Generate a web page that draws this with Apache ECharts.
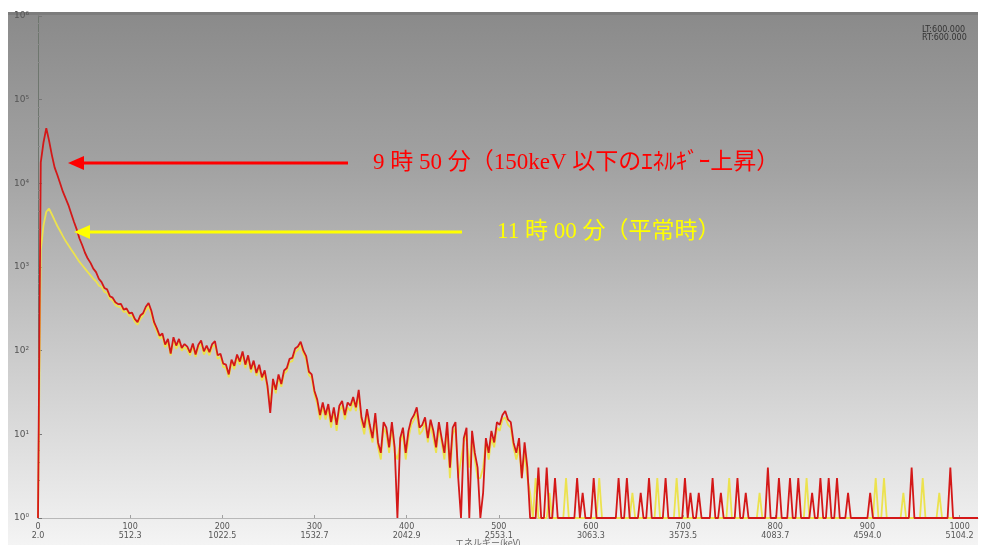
<!DOCTYPE html>
<html>
<head>
<meta charset="utf-8">
<script src="https://cdn.jsdelivr.net/npm/echarts@6/dist/echarts.min.js"></script>
<style>
  html, body { margin: 0; padding: 0; background: #fff; }
  #panel {
    position: absolute; left: 8px; top: 12px; width: 970px; height: 533px;
    background: linear-gradient(to bottom, #8a8a8a 0%, #a3a3a3 30%, #c6c6c6 60%, #e8e8e8 90%, #f4f4f4 100%);
  }
  #band { position: absolute; left: 8px; top: 12px; width: 970px; height: 3px; background: #7c7c7c; }
  #chart { position: absolute; left: 0; top: 0; width: 984px; height: 545px; }
</style>
</head>
<body>
<div id="panel"></div>
<div id="band"></div>
<div id="chart"></div>
<script>
// channel step between samples
const STEP = 3;

// 9:50 spectrum (counts), channels 0..1020 every 3
const redCounts = [
  1, 17800, 31000, 45700, 32400, 21900, 15500, 12600, 10000, 7940,
  6600, 5500, 4370, 3470, 2820, 2190, 1820, 1480, 1260, 1120,
  955, 870, 724, 660, 562, 540, 447, 430, 380, 360,
  363, 310, 320, 280, 285, 240, 219, 263, 280, 335,
  372, 300, 219, 185, 151, 160, 118, 138, 92, 145,
  115, 138, 108, 120, 112, 95, 122, 90, 118, 132,
  98, 115, 96, 120, 130, 88, 92, 70, 68, 52,
  78, 66, 90, 74, 98, 68, 88, 60, 76, 54,
  68, 48, 58, 38, 18, 46, 34, 52, 40, 58,
  62, 80, 82, 106, 112, 128, 100, 86, 56, 52,
  33, 26, 17, 24, 17, 23, 14, 21, 13, 22,
  25, 17, 24, 22, 28, 21, 34, 16, 12, 20,
  13, 9, 18, 8, 6, 14, 12, 7, 14, 7,
  1, 9, 12, 6, 11, 15, 17, 21, 12, 13,
  16, 9, 15, 11, 7, 14, 9, 6, 14, 4,
  12, 14, 3, 1, 9, 12, 1, 11, 6, 4,
  1, 2, 9, 6, 11, 8, 14, 13, 17, 19,
  15, 14, 8, 6, 9, 3, 8, 4, 1,
  // tail 537..1020
  1, 1, 4, 1, 1, 4, 1, 1, 3, 1,
  1, 1, 1, 1, 1, 1, 3, 1, 2, 1,
  1, 1, 3, 1, 1, 1, 1, 1, 1, 1,
  1, 3, 1, 1, 3, 1, 1, 1, 1, 2,
  1, 1, 3, 1, 1, 1, 1, 1, 3, 1,
  1, 1, 1, 1, 1, 3, 1, 2, 1, 1,
  2, 1, 1, 1, 1, 3, 1, 1, 2, 1,
  1, 1, 1, 1, 3, 1, 1, 2, 1, 1,
  1, 1, 1, 1, 1, 4, 1, 1, 1, 3,
  1, 1, 1, 3, 1, 1, 3, 1, 1, 1,
  1, 2, 1, 1, 3, 1, 1, 3, 1, 1,
  3, 1, 1, 1, 2, 1, 1, 1, 1, 1,
  1, 1, 2, 1, 1, 1, 1, 1, 1, 1,
  1, 1, 1, 1, 1, 1, 1, 4, 1, 1,
  1, 1, 1, 1, 1, 1, 1, 1, 1, 1,
  1, 4, 1, 1, 1, 1, 1, 1, 1, 1,
  1, 1
];

// 11:00 spectrum (counts), same channels
const yellowCounts = [
  1, 1600, 3160, 4570, 5000, 4270, 3630, 3090, 2690, 2340,
  2040, 1820, 1620, 1450, 1290, 1150, 1050, 955, 870, 794,
  724, 676, 600, 580, 505, 490, 415, 400, 350, 335,
  330, 290, 295, 260, 262, 222, 204, 240, 262, 305,
  340, 275, 205, 170, 140, 148, 110, 126, 88, 132,
  105, 125, 100, 110, 102, 88, 112, 84, 108, 120,
  90, 104, 88, 110, 118, 80, 84, 64, 62, 48,
  72, 60, 82, 68, 90, 62, 80, 55, 70, 50,
  62, 44, 53, 35, 24, 42, 31, 48, 37, 53,
  57, 73, 75, 96, 102, 116, 92, 78, 51, 47,
  30, 23, 15, 21, 15, 20, 12, 19, 11, 19,
  22, 15, 21, 19, 25, 19, 30, 14, 10, 17,
  11, 8, 15, 7, 5, 12, 10, 6, 12, 6,
  5, 8, 10, 5, 9, 13, 15, 18, 10, 11,
  14, 8, 13, 9, 6, 12, 8, 5, 12, 3,
  10, 12, 3, 5, 8, 10, 4, 9, 5, 3,
  3, 4, 8, 5, 9, 7, 12, 11, 15, 16,
  13, 12, 7, 5, 7, 3, 6, 3, 2,
  // tail 537..1020
  1, 3, 1, 1, 1, 1, 2, 1, 1, 1,
  1, 1, 3, 1, 1, 1, 1, 1, 1, 1,
  1, 1, 1, 1, 3, 1, 1, 1, 1, 1,
  1, 1, 1, 1, 1, 1, 2, 1, 1, 1,
  1, 1, 1, 1, 1, 3, 1, 1, 1, 1,
  1, 1, 3, 1, 1, 1, 1, 1, 1, 1,
  1, 1, 1, 1, 1, 1, 1, 1, 1, 1,
  1, 3, 1, 1, 1, 1, 1, 1, 1, 1,
  1, 1, 2, 1, 1, 1, 1, 1, 1, 1,
  1, 1, 1, 1, 1, 1, 1, 1, 1, 3,
  1, 1, 1, 1, 1, 1, 1, 1, 1, 1,
  1, 1, 1, 1, 1, 1, 1, 1, 1, 1,
  1, 1, 1, 1, 3, 1, 1, 3, 1, 1,
  1, 1, 1, 1, 2, 1, 1, 1, 1, 1,
  1, 3, 1, 1, 1, 1, 1, 2, 1, 1,
  1, 1, 1, 1, 1, 1, 1, 1, 1, 1,
  1, 1
];

// x tick labels: channel / energy (keV)
const xTickChannels = [0, 100, 200, 300, 400, 500, 600, 700, 800, 900, 1000];
const xTickEnergies = ['2.0', '512.3', '1022.5', '1532.7', '2042.9', '2553.1', '3063.3', '3573.5', '4083.7', '4594.0', '5104.2'];
const yTickLabels = ['10⁰', '10¹', '10²', '10³', '10⁴', '10⁵', '10⁶'];

const redLabel = '9 時 50 分（150keV 以下のｴﾈﾙｷﾞｰ上昇）';
const yellowLabel = '11 時 00 分（平常時）';

const toPairs = arr => arr.map((v, i) => [i * STEP, v]);

const chart = echarts.init(document.getElementById('chart'));
const annoFont = '23px "Liberation Serif", "Noto Sans CJK JP", serif';

chart.setOption({
  animation: false,
  backgroundColor: 'transparent',
  grid: { left: 38, right: 6, top: 16, bottom: 27, outerBoundsMode: 'none' },
  xAxis: {
    type: 'value',
    min: 0,
    max: 1020,
    interval: 100,
    axisLine: { show: true, lineStyle: { color: '#b8b8b8', width: 1 } },
    axisTick: { show: true, inside: true, length: 3, lineStyle: { color: '#a0a0a0' } },
    splitLine: { show: false },
    axisLabel: {
      color: '#555',
      fontSize: 8,
      lineHeight: 9,
      fontFamily: 'DejaVu Sans',
      margin: 4,
      showMaxLabel: false,
      formatter: v => {
        const k = xTickChannels.indexOf(v);
        return k < 0 ? '' : v + '\n' + xTickEnergies[k];
      }
    }
  },
  yAxis: {
    type: 'log',
    logBase: 10,
    min: 1,
    max: 1000000,
    axisLine: { show: true, lineStyle: { color: '#6e766e', width: 1 } },
    axisTick: { show: true, inside: true, length: 4, lineStyle: { color: '#777' } },
    minorTick: { show: true, splitNumber: 5, length: 2, lineStyle: { color: '#888' } },
    splitLine: { show: false },
    axisLabel: {
      color: '#555',
      fontSize: 9,
      fontFamily: 'DejaVu Sans',
      margin: 9,
      formatter: v => yTickLabels[Math.round(Math.log10(v))] || ''
    }
  },
  series: [
    {
      name: '11:00',
      type: 'line',
      data: toPairs(yellowCounts),
      showSymbol: false,
      lineStyle: { color: '#ece24e', width: 1.8 },
      z: 2
    },
    {
      name: '9:50',
      type: 'line',
      data: toPairs(redCounts),
      showSymbol: false,
      lineStyle: { color: '#d41818', width: 1.8 },
      z: 3
    }
  ],
  graphic: [
    // red arrow + label
    { type: 'line', shape: { x1: 82, y1: 163, x2: 348, y2: 163 }, style: { stroke: '#ff0000', lineWidth: 3 }, z: 10 },
    { type: 'polygon', shape: { points: [[68, 163], [84, 156], [84, 170]] }, style: { fill: '#ff0000' }, z: 10 },
    { type: 'text', x: 373, y: 163, style: { text: redLabel, fill: '#ff0000', font: annoFont, textVerticalAlign: 'middle', verticalAlign: 'middle' }, z: 10 },
    // yellow arrow + label
    { type: 'line', shape: { x1: 88, y1: 232, x2: 462, y2: 232 }, style: { stroke: '#ffff00', lineWidth: 3 }, z: 10 },
    { type: 'polygon', shape: { points: [[74, 232], [90, 225], [90, 239]] }, style: { fill: '#ffff00' }, z: 10 },
    { type: 'text', x: 497, y: 232, style: { text: yellowLabel, fill: '#ffff00', font: annoFont, textVerticalAlign: 'middle', verticalAlign: 'middle' }, z: 10 },
    // live / real time
    { type: 'text', x: 922, y: 26, style: { text: 'LT:600.000', fill: '#333', font: '8px "DejaVu Sans"' }, z: 10 },
    { type: 'text', x: 922, y: 34, style: { text: 'RT:600.000', fill: '#333', font: '8px "DejaVu Sans"' }, z: 10 },
    // axis name, cut at the bottom edge
    { type: 'text', x: 455, y: 538, style: { text: 'エネルギー(keV)', fill: '#666', font: '9px "Noto Sans CJK JP"' }, z: 10 }
  ]
});
</script>
</body>
</html>
